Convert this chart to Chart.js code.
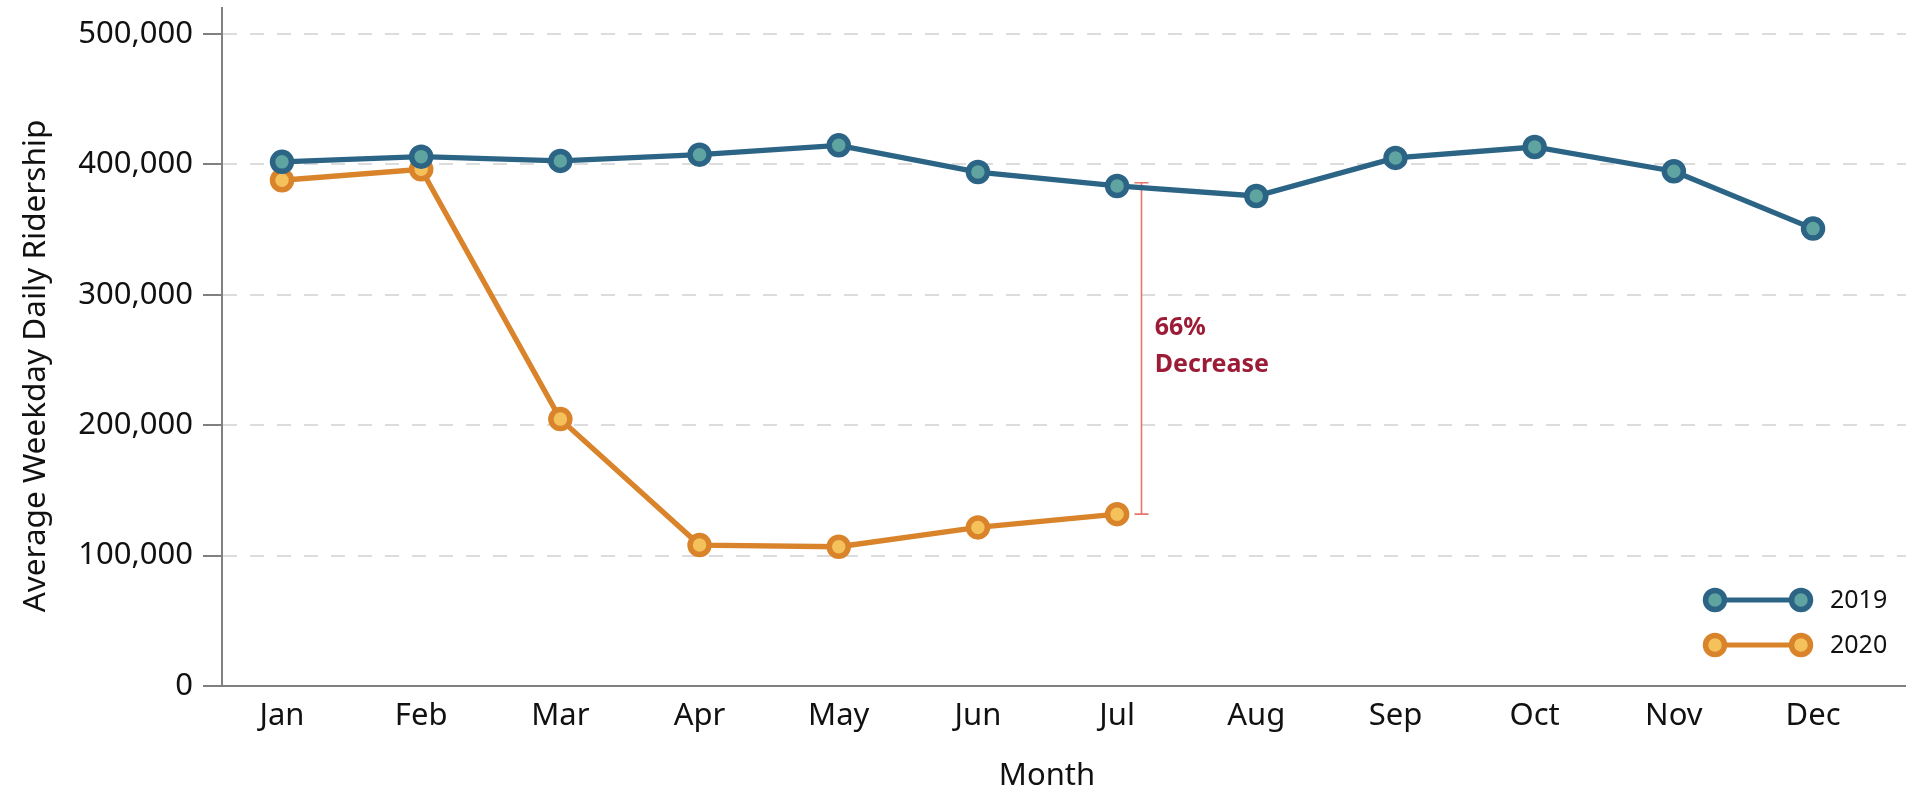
<!DOCTYPE html>
<html>
<head>
<meta charset="utf-8">
<script src="https://cdn.jsdelivr.net/npm/chart.js@4.4.0/dist/chart.umd.min.js"></script>
<style>
html,body{margin:0;padding:0;background:#ffffff;}
#wrap{width:1906px;height:794px;position:relative;}
</style>
</head>
<body>
<div id="wrap"><canvas id="c"></canvas></div>
<script>
// ---- data ----
const months = ['Jan','Feb','Mar','Apr','May','Jun','Jul','Aug','Sep','Oct','Nov','Dec'];
const seriesLabels = ['2019', '2020'];
const ridership2019 = [402000, 406000, 402700, 407500, 414700, 394200, 383500, 375800, 405000, 413400, 394800, 350800];
const ridership2020 = [387900, 396300, 204700, 108100, 106800, 121600, 131800];
const yTickValues = [0, 100000, 200000, 300000, 400000, 500000];
const yAxisTitle = 'Average Weekday Daily Ridership';
const xAxisTitle = 'Month';
const decreaseText = ['66%', 'Decrease'];
const decreaseRange = [131800, 386000];   // bottom, top of bracket
const decreaseAt = 6.17;                   // just right of Jul
const decreaseTextAt = 269000;

// ---- style ----
const FONT = '"Noto Sans", "DejaVu Sans", sans-serif';
const colors = [
  {line: '#2c6486', fill: '#5fa4a0'},
  {line: '#d9832b', fill: '#f5c15b'}
];

function toPoints(arr){ return arr.map((v, i) => ({x: i, y: v})); }

const annotationPlugin = {
  id: 'decreaseAnnotation',
  beforeDatasetsDraw(chart){
    const {ctx, scales: {x, y}} = chart;
    const px = Math.round(x.getPixelForValue(decreaseAt)) + 0.5;
    const yTop = y.getPixelForValue(decreaseRange[1]);
    const yBot = y.getPixelForValue(decreaseRange[0]);
    ctx.save();
    ctx.strokeStyle = '#e8766c';
    ctx.lineWidth = 1.6;
    ctx.beginPath();
    ctx.moveTo(px, yTop); ctx.lineTo(px, yBot);
    ctx.moveTo(px - 7, yTop); ctx.lineTo(px + 7, yTop);
    ctx.moveTo(px - 7, yBot); ctx.lineTo(px + 7, yBot);
    ctx.stroke();
    ctx.restore();
  },
  afterDraw(chart){
    const {ctx, scales: {x, y}} = chart;
    const px = x.getPixelForValue(decreaseAt) + 14;
    const py = y.getPixelForValue(decreaseTextAt);
    ctx.save();
    ctx.fillStyle = '#9c1c37';
    ctx.font = 'bold 25px ' + FONT;
    ctx.textAlign = 'left';
    ctx.textBaseline = 'alphabetic';
    decreaseText.forEach((t, i) => ctx.fillText(t, px, py + i * 37));
    ctx.restore();
  }
};

const titlesPlugin = {
  id: 'axisTitles',
  afterDraw(chart){
    const {ctx, chartArea} = chart;
    ctx.save();
    ctx.fillStyle = '#111111';
    ctx.textAlign = 'center';
    ctx.textBaseline = 'middle';
    ctx.font = '31px ' + FONT;
    ctx.fillText(xAxisTitle, chartArea.left + 825, chartArea.bottom + 90);
    ctx.translate(36, chartArea.top + 358);
    ctx.rotate(-Math.PI / 2);
    ctx.font = '31.5px ' + FONT;
    ctx.fillText(yAxisTitle, 0, 0);
    ctx.restore();
  }
};

const legendPlugin = {
  id: 'insideLegend',
  afterDraw(chart){
    const {ctx, chartArea} = chart;
    const right = chartArea.right;
    chart.data.datasets.forEach((ds, i) => {
      const yy = chartArea.bottom - 86 + i * 45;
      const x1 = right - 191, x2 = right - 105;
      ctx.save();
      ctx.strokeStyle = ds.borderColor;
      ctx.lineWidth = 5;
      ctx.beginPath(); ctx.moveTo(x1, yy); ctx.lineTo(x2, yy); ctx.stroke();
      [x1, x2].forEach(cx => {
        ctx.beginPath();
        ctx.arc(cx, yy, 9.5, 0, Math.PI * 2);
        ctx.fillStyle = ds.pointBackgroundColor;
        ctx.fill();
        ctx.lineWidth = 5.5;
        ctx.strokeStyle = ds.pointBorderColor;
        ctx.stroke();
      });
      ctx.fillStyle = '#111111';
      ctx.font = '25px ' + FONT;
      ctx.textAlign = 'left';
      ctx.textBaseline = 'middle';
      ctx.fillText(ds.label, right - 76, yy + 1);
      ctx.restore();
    });
  }
};

const datasets = [ridership2019, ridership2020].map((arr, i) => ({
  label: seriesLabels[i],
  data: toPoints(arr),
  borderColor: colors[i].line,
  backgroundColor: colors[i].line,
  pointBackgroundColor: colors[i].fill,
  pointBorderColor: colors[i].line,
  pointRadius: 9.5,
  pointBorderWidth: 5.5,
  borderWidth: 5.3,
  tension: 0,
  fill: false,
  clip: false
}));

new Chart(document.getElementById('c'), {
  type: 'line',
  data: { datasets },
  plugins: [annotationPlugin, legendPlugin, titlesPlugin],
  options: {
    responsive: true,
    maintainAspectRatio: false,
    animation: false,
    devicePixelRatio: 1,
    layout: { autoPadding: false, padding: {top: 8, right: 0, bottom: 0, left: 0} },
    plugins: { legend: {display: false}, tooltip: {enabled: false} },
    scales: {
      x: {
        type: 'linear',
        min: -0.431,
        max: 11.668,
        afterBuildTicks(s){ s.ticks = months.map((m, i) => ({value: i})); },
        afterFit(s){ s.height = 108; s.paddingLeft = 0; s.paddingRight = 0; s.paddingTop = 0; s.paddingBottom = 0; },
        ticks: {
          callback: (v) => months[v],
          font: {family: FONT, size: 31},
          color: '#111111',
          padding: 12,
          autoSkip: false,
          maxRotation: 0
        },
        grid: {display: false, drawTicks: false},
        border: {display: true, color: '#7f7f7f', width: 2},
        title: {display: false}
      },
      y: {
        type: 'linear',
        min: 0,
        max: 520000,
        afterBuildTicks(s){ s.ticks = yTickValues.map(v => ({value: v})); },
        afterFit(s){ s.width = 222; s.paddingLeft = 0; s.paddingRight = 0; s.paddingTop = 0; s.paddingBottom = 0; },
        ticks: {
          callback: (v) => Number(v).toLocaleString('en-US'),
          font: {family: FONT, size: 31},
          color: '#111111',
          padding: 10
        },
        grid: {
          color: '#dcdcdc', lineWidth: 2,
          drawTicks: true, tickLength: 19,
          tickColor: '#808080', tickWidth: 2, tickBorderDash: []
        },
        border: {display: true, color: '#808080', width: 2, dash: [14, 13]},
        title: {display: false}
      }
    }
  }
});
</script>
</body>
</html>
